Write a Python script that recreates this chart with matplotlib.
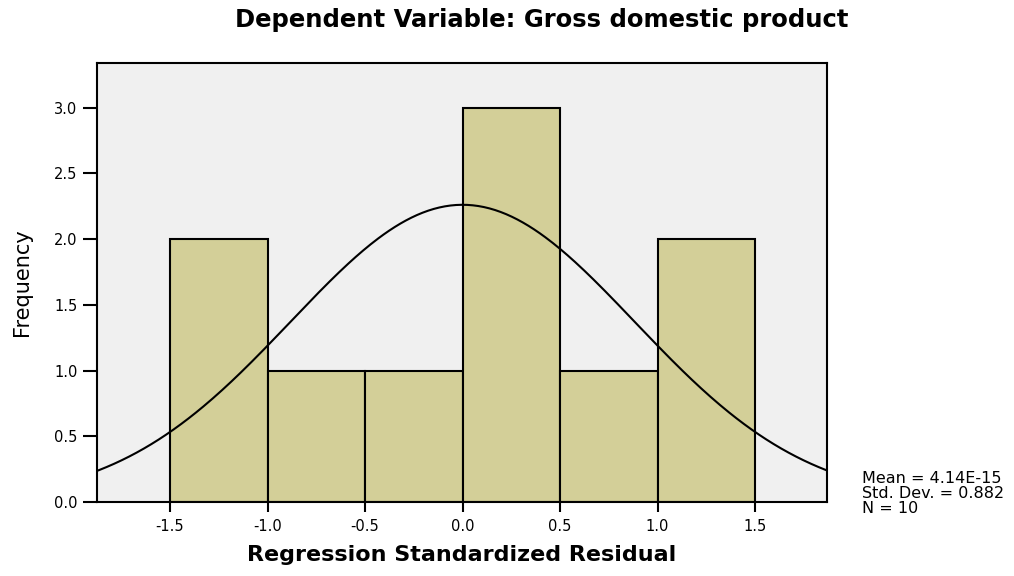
import numpy as np
import matplotlib.pyplot as plt

bin_edges = [-1.5, -1.0, -0.5, 0.0, 0.5, 1.0, 1.5]
counts = [2, 1, 1, 3, 1, 2]
mean = 0.0
std_dev = 0.882
n_obs = 10
x_ticks = [-1.5, -1.0, -0.5, 0.0, 0.5, 1.0, 1.5]
y_ticks = [0.0, 0.5, 1.0, 1.5, 2.0, 2.5, 3.0]

fig = plt.figure(figsize=(10.14, 5.76), dpi=100)
ax = fig.add_axes([0.0957, 0.1285, 0.72, 0.762])
ax.set_facecolor("#f0f0f0")

widths = np.diff(bin_edges)
ax.bar(bin_edges[:-1], counts, width=widths, align="edge",
       color="#d3cf98", edgecolor="black", linewidth=1.5, zorder=2)

# normal curve scaled to the histogram
xs = np.linspace(-1.9, 1.9, 400)
bw = widths[0]
ys = n_obs * bw / (std_dev * np.sqrt(2 * np.pi)) * np.exp(-0.5 * ((xs - mean) / std_dev) ** 2)
ax.plot(xs, ys, color="black", linewidth=1.5, zorder=3)

ax.set_xlim(-1.874, 1.869)
ax.set_ylim(0, 3.34)
ax.set_xticks(x_ticks)
ax.set_xticklabels([f"{t:.1f}" for t in x_ticks], fontsize=10.5)
ax.set_yticks(y_ticks)
ax.set_yticklabels([f"{t:.1f}" for t in y_ticks], fontsize=10.5)
ax.tick_params(axis="x", direction="out", length=7, width=1.5, pad=5)
ax.tick_params(axis="y", direction="out", length=10, width=1.5, pad=4)
for s in ax.spines.values():
    s.set_linewidth(1.5)

fig.text(542 / 1014, 1 - 20 / 576, "Dependent Variable: Gross domestic product",
         fontsize=17.5, fontweight="bold", ha="center", va="center")
ax.set_xlabel("Regression Standardized Residual", fontsize=16,
              fontweight="bold", labelpad=8)
ax.set_ylabel("Frequency", fontsize=15, labelpad=16)

fig.text(862 / 1014, 1 - 516 / 576,
         f"Mean = 4.14E-15\nStd. Dev. = {std_dev}\nN = {n_obs}",
         fontsize=11.5, va="bottom", ha="left", linespacing=1.0)

fig.savefig("out.png", dpi=100)
